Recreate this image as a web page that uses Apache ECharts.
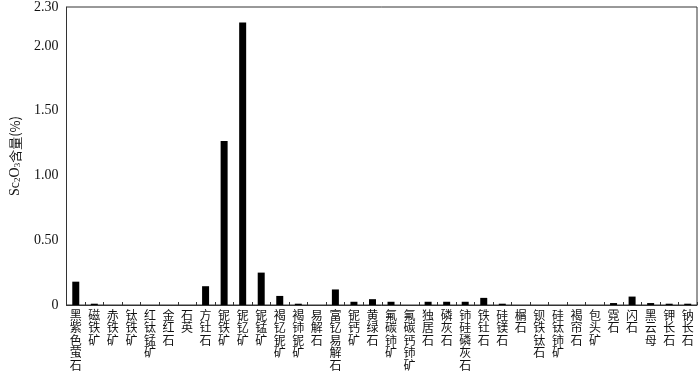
<!DOCTYPE html>
<html><head><meta charset="utf-8">
<script src="https://cdn.jsdelivr.net/npm/echarts@6/dist/echarts.min.js"></script>
<style>html,body{margin:0;padding:0;background:#fff}#c{width:700px;height:376px}</style>
</head><body><div id="c"></div>
<script>
const categories = ['黑紫色萤石','磁铁矿','赤铁矿','钛铁矿','红钛锰矿','金红石','石英','方钍石','铌铁矿','铌钇矿','铌锰矿','褐钇铌矿','褐铈铌矿','易解石','富钇易解石','铌钙矿','黄绿石','氟碳铈矿','氟碳钙铈矿','独居石','磷灰石','铈硅磷灰石','铁钍石','硅镁石','榍石','钡铁钛石','硅钛铈矿','褐帘石','包头矿','霓石','闪石','黑云母','钾长石','钠长石'];
const sc2o3 = [0.18,0.01,0,0,0,0,0,0.145,1.265,2.18,0.25,0.07,0.01,0,0.12,0.025,0.045,0.025,0,0.025,0.025,0.025,0.055,0.01,0,0,0,0,0,0.015,0.065,0.015,0.01,0.01];
const yMin = 0, yMax = 2.3, yInterval = 0.5;

const chart = echarts.init(document.getElementById('c'), null, {renderer:'canvas'});
chart.setOption({
  animation:false,
  backgroundColor:'#fff',
  grid:{left:58,right:3,top:6,bottom:71,show:true,borderColor:'#333',borderWidth:1,backgroundColor:'transparent'},
  xAxis:{
    type:'category', data:categories,
    axisLine:{lineStyle:{color:'#333',width:1}},
    axisTick:{show:true,inside:true,length:3,lineStyle:{color:'#333'}},
    axisLabel:{interval:0,margin:4,color:'#111',fontFamily:'Noto Sans CJK SC',fontSize:12,lineHeight:12.5,
      verticalAlign:'top',
      formatter:v=>v.split('').join('\n')}
  },
  yAxis:{
    type:'value', min:yMin, max:yMax, interval:yInterval,
    splitLine:{show:false},
    axisLine:{show:true,lineStyle:{color:'#333',width:1}},
    axisTick:{show:false},
    axisLabel:{color:'#111',fontFamily:'Liberation Serif',fontSize:14,margin:8,
      formatter:v=>v===0?'0':v.toFixed(2)},
    name:'{a|Sc}{s|2}{a|O}{s|3}{c|含量(%)}',
    nameLocation:'middle', nameGap:44, nameRotate:90,
    nameTextStyle:{rich:{
      a:{fontFamily:'Liberation Serif',fontSize:14,color:'#111'},
      s:{fontFamily:'Liberation Serif',fontSize:9,color:'#111',verticalAlign:'bottom',padding:[6,0,0,0]},
      c:{fontFamily:'Noto Sans CJK SC',fontSize:13,color:'#111'}
    }}
  },
  series:[{type:'bar',data:sc2o3,barWidth:7,itemStyle:{color:'#000'}}]
});
</script></body></html>
